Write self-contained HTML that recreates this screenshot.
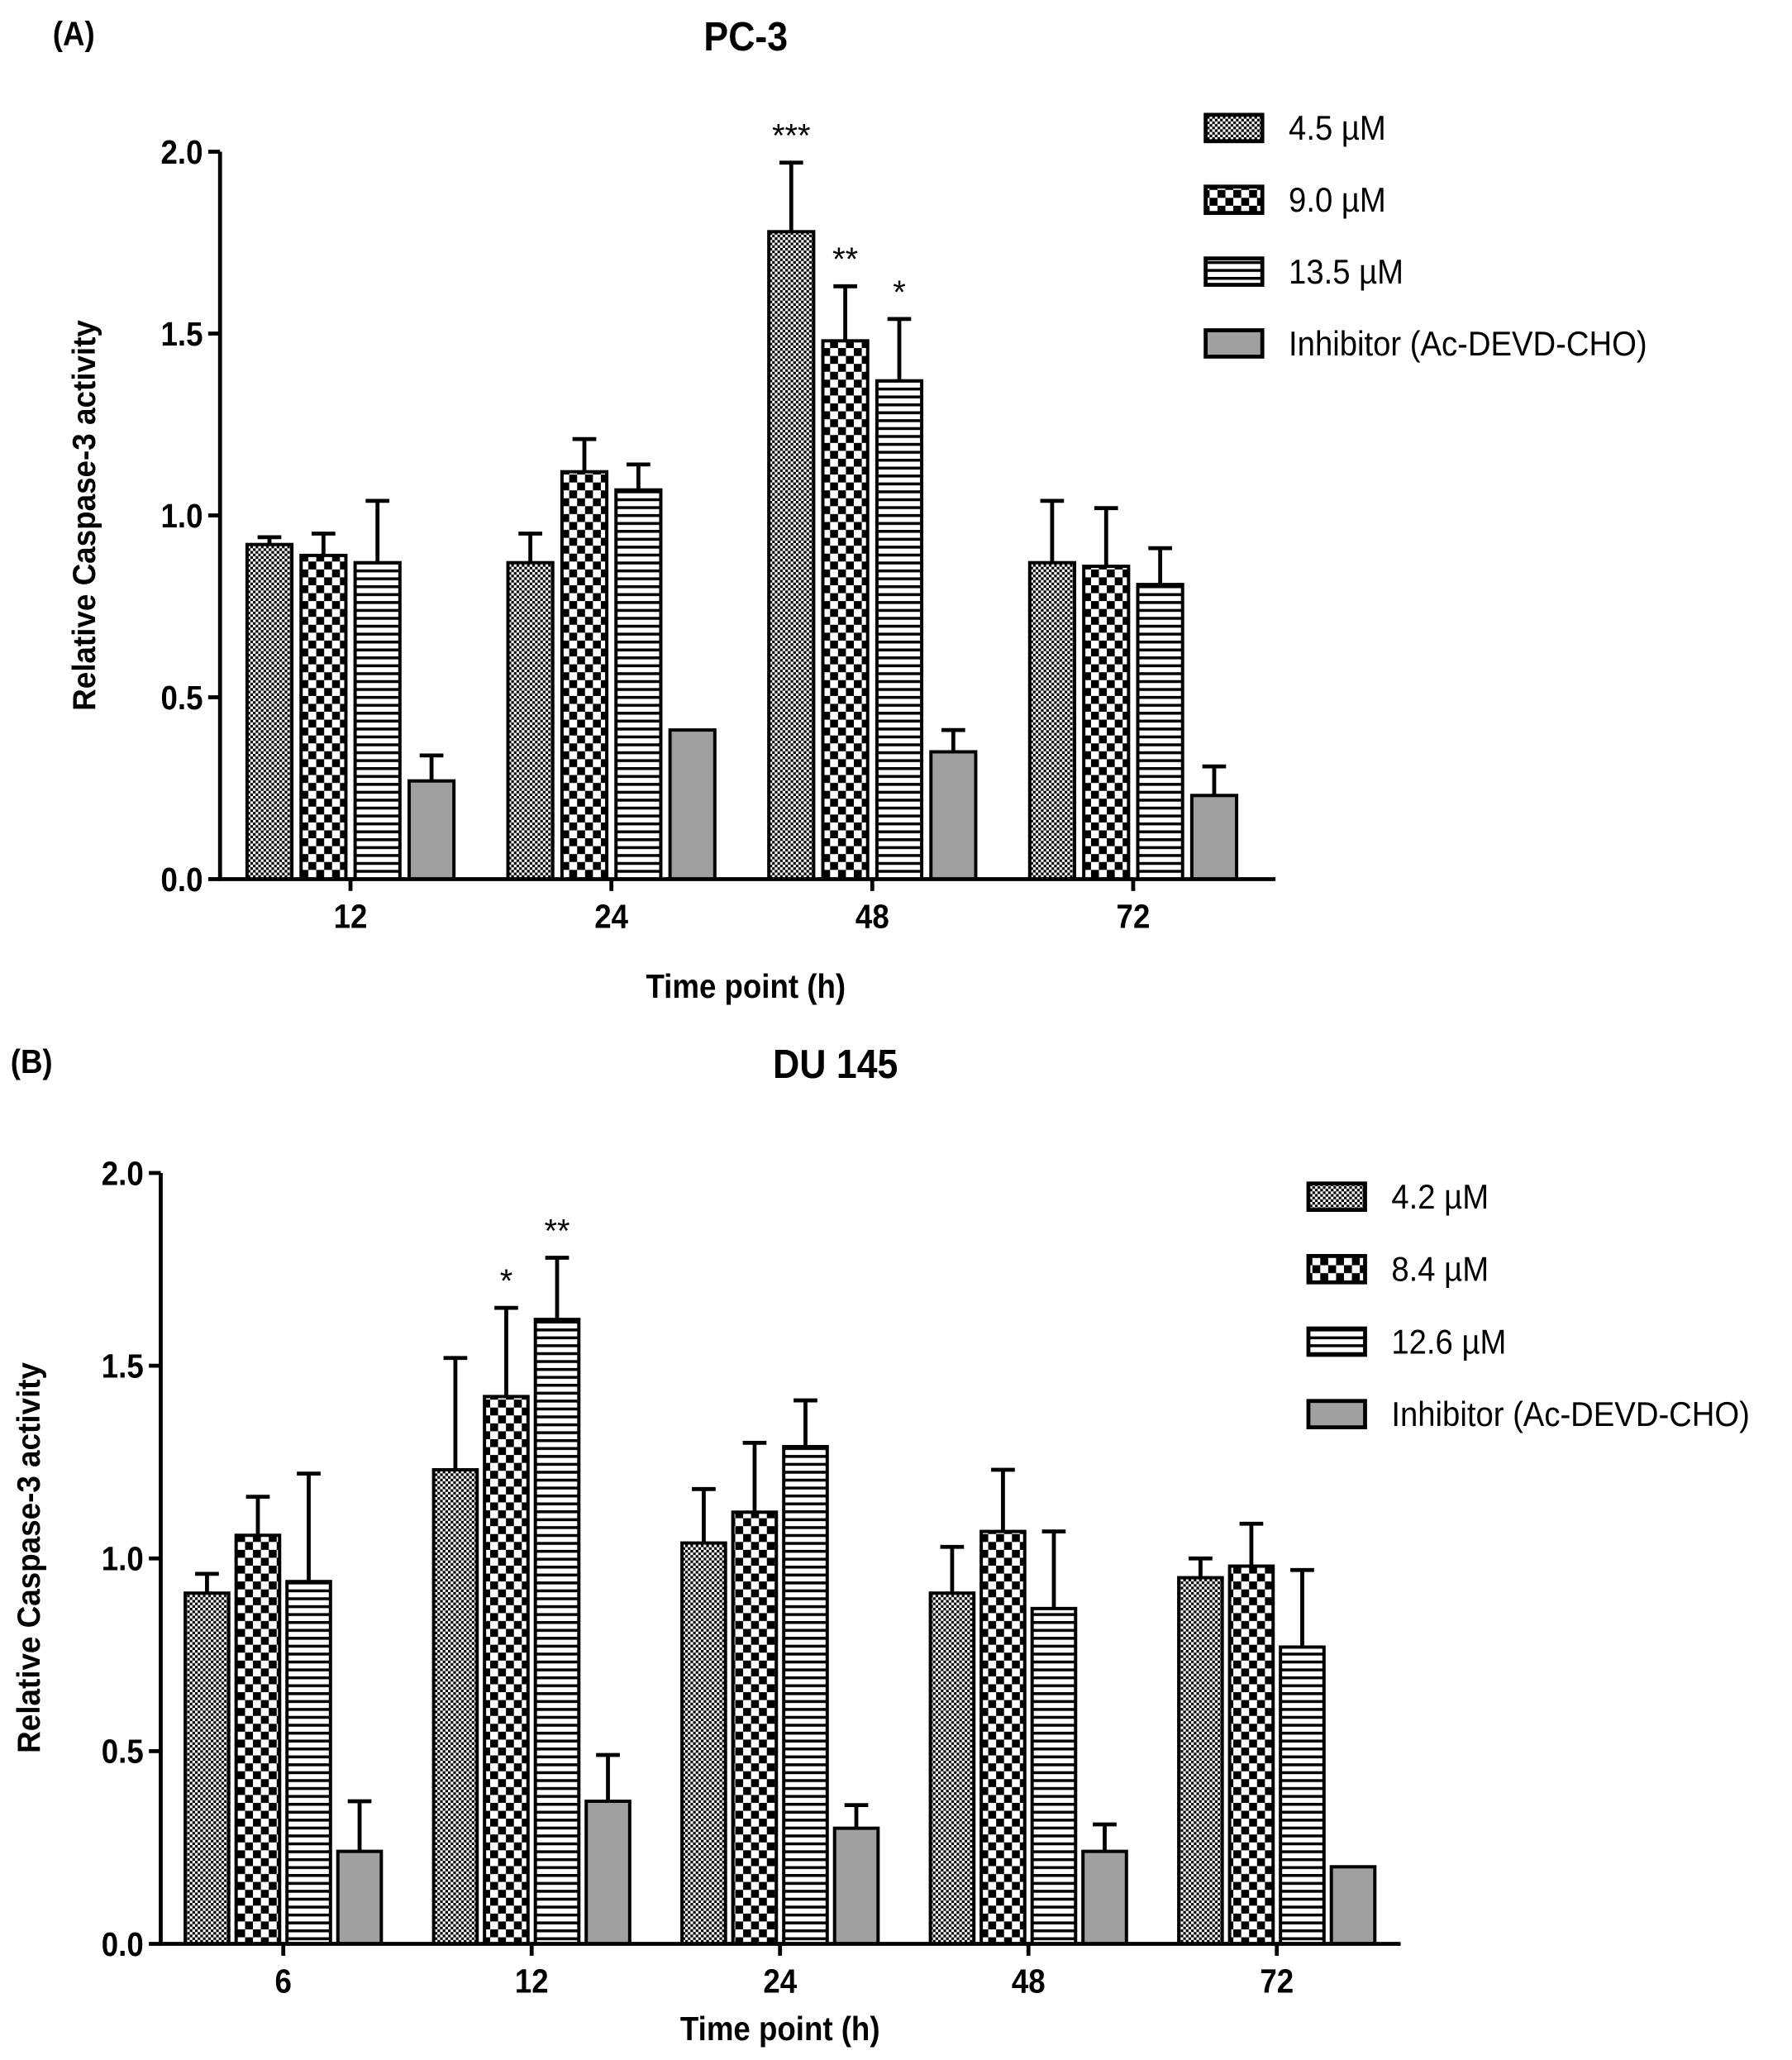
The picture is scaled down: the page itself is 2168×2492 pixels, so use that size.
<!DOCTYPE html>
<html><head><meta charset="utf-8"><style>
html,body{margin:0;padding:0;background:#fff}
svg{display:block;font-family:"Liberation Sans",Arial,sans-serif}
</style></head><body>
<svg id="fig" xmlns="http://www.w3.org/2000/svg" width="2168" height="2492" viewBox="0 0 1360 1563">
<defs>
<pattern id="pFine" width="4" height="4" patternUnits="userSpaceOnUse"><rect width="4" height="4" fill="#fff"/><rect width="2" height="2" fill="#000"/><rect x="2" y="2" width="2" height="2" fill="#000"/></pattern>
<pattern id="pCheck" width="12" height="12" patternUnits="userSpaceOnUse"><rect width="12" height="12" fill="#fff"/><rect width="6" height="6" fill="#000"/><rect x="6" y="6" width="6" height="6" fill="#000"/></pattern>
<pattern id="pStripe" width="8" height="6" patternUnits="userSpaceOnUse"><rect width="8" height="6" fill="#fff"/><rect y="0" width="8" height="2.2" fill="#000"/></pattern>
</defs>
</svg>
<script>
const catsA=['12','24','48','72'];
const valsA=[[0.92,0.87,1.78,0.87],[0.89,1.12,1.48,0.86],[0.87,1.07,1.37,0.81],[0.27,0.41,0.35,0.23]];
const errA=[[0.94,0.95,1.97,1.04],[0.95,1.21,1.63,1.02],[1.04,1.14,1.54,0.91],[0.34,0.41,0.41,0.31]];
const starsA=[['','','***',''],['','','**',''],['','','*',''],['','','','']];
const legA=['4.5 µM','9.0 µM','13.5 µM','Inhibitor (Ac-DEVD-CHO)'];
const catsB=['6','12','24','48','72'];
const valsB=[[0.91,1.23,1.04,0.91,0.95],[1.06,1.42,1.12,1.07,0.98],[0.94,1.62,1.29,0.87,0.77],[0.24,0.37,0.30,0.24,0.20]];
const errB=[[0.96,1.52,1.18,1.03,1.00],[1.16,1.65,1.30,1.23,1.09],[1.22,1.78,1.41,1.07,0.97],[0.37,0.49,0.36,0.31,0.20]];
const starsB=[['','','','',''],['','*','','',''],['','**','','',''],['','','','','']];
const legB=['4.2 µM','8.4 µM','12.6 µM','Inhibitor (Ac-DEVD-CHO)'];
const yTicks=['0.0','0.5','1.0','1.5','2.0'];
const fills=['url(#pFine)','url(#pCheck)','url(#pStripe)','#a0a0a0'];
const svg=document.getElementById('fig');
const NS='http://www.w3.org/2000/svg';
function mk(tag,attrs,txt){const e=document.createElementNS(NS,tag);for(const k in attrs)e.setAttribute(k,attrs[k]);if(txt!==undefined)e.textContent=txt;svg.appendChild(e);return e;}
function tall(x,y,attrs,txt){attrs.x=0;attrs.y=0;attrs.transform=`translate(${x},${y}) scale(1,1.1)`;return mk('text',attrs,txt);}
function panel(p){
  const y=v=>p.y0-v*p.ppu;
  const x=i=>p.x0c+i*p.gstep;
  let t=tall(p.lx,p.ty,{'font-size':23,'font-weight':'bold'},p.letter);
  
  
  t=tall(p.tx,p.ty+4,{'font-size':28,'font-weight':'bold','text-anchor':'middle'},p.title);
  
  
  p.vals.forEach((ser,s)=>ser.forEach((v,i)=>{
    const bx=x(i)+(s-1.5)*p.pitch-p.bw/2;
    const r=mk('rect',{x:bx,y:y(v),width:p.bw,height:v*p.ppu,fill:fills[s],stroke:'#000','stroke-width':2.5});
    
    
    const e=p.err[s][i];
    if(e>v+0.001){
      const cx=bx+p.bw/2;
      const l=mk('path',{d:`M${cx},${y(v)}V${y(e)}M${cx-9},${y(e)}H${cx+9}`,stroke:'#000','stroke-width':3,fill:'none'});
      
      
    }
    const st=p.stars[s][i];
    if(st){const a=mk('text',{x:bx+p.bw/2,y:y(e)-12,'font-size':25,'text-anchor':'middle'},st);
      
      }
  }));
  let ax=mk('path',{d:`M${p.ax},${y(2)}V${p.y0}H${p.axEnd}`,stroke:'#000','stroke-width':3,fill:'none'});
  
  
  yTicks.forEach(tk=>{const v=parseFloat(tk);
    mk('path',{d:`M${p.ax-9},${y(v)}H${p.ax}`,stroke:'#000','stroke-width':3});
    const l=tall(p.ax-13,y(v)+9,{'font-size':23,'font-weight':'bold','text-anchor':'end'},tk);
    
    });
  p.cats.forEach((c,i)=>{
    mk('path',{d:`M${x(i)},${p.y0}V${p.y0+9}`,stroke:'#000','stroke-width':3});
    const l=tall(x(i),p.y0+37,{'font-size':23,'font-weight':'bold','text-anchor':'middle'},c);
    
    });
  t=tall(p.xtx,p.xty,{'font-size':23,'font-weight':'bold','text-anchor':'middle'},'Time point (h)');
  
  
  t=mk('text',{x:0,y:0,'font-size':22,'font-weight':'bold','text-anchor':'middle',transform:`translate(${p.ytx},${p.yty}) rotate(-90) scale(1.05,1.1)`},'Relative Caspase-3 activity');
  
  
  p.leg.forEach((L,k)=>{const yy=p.legY+k*p.legStep;
    const r=mk('rect',{x:p.legX,y:yy,width:43,height:20,fill:fills[k],stroke:'#000','stroke-width':3});
    
    
    const tt=tall(p.legX+63,yy+19,{'font-size':24},L);
    
    });
}
panel({id:'a',letter:'(A)',title:'PC-3',lx:40,tx:566,ty:34,cats:catsA,vals:valsA,err:errA,stars:starsA,leg:legA,
  y0:667,ppu:276,x0c:266,gstep:198,pitch:41,bw:34,ax:167,axEnd:968,xtx:566,xty:757,ytx:72,yty:391,legX:915,legY:87,legStep:54.5});
panel({id:'b',letter:'(B)',title:'DU 145',lx:8,tx:634,ty:814,cats:catsB,vals:valsB,err:errB,stars:starsB,leg:legB,
  y0:1475,ppu:292.5,x0c:215,gstep:188.5,pitch:38.6,bw:33,ax:122,axEnd:1063,xtx:592,xty:1548,ytx:30,yty:1182,legX:993,legY:898,legStep:55});
</script>
</body></html>
